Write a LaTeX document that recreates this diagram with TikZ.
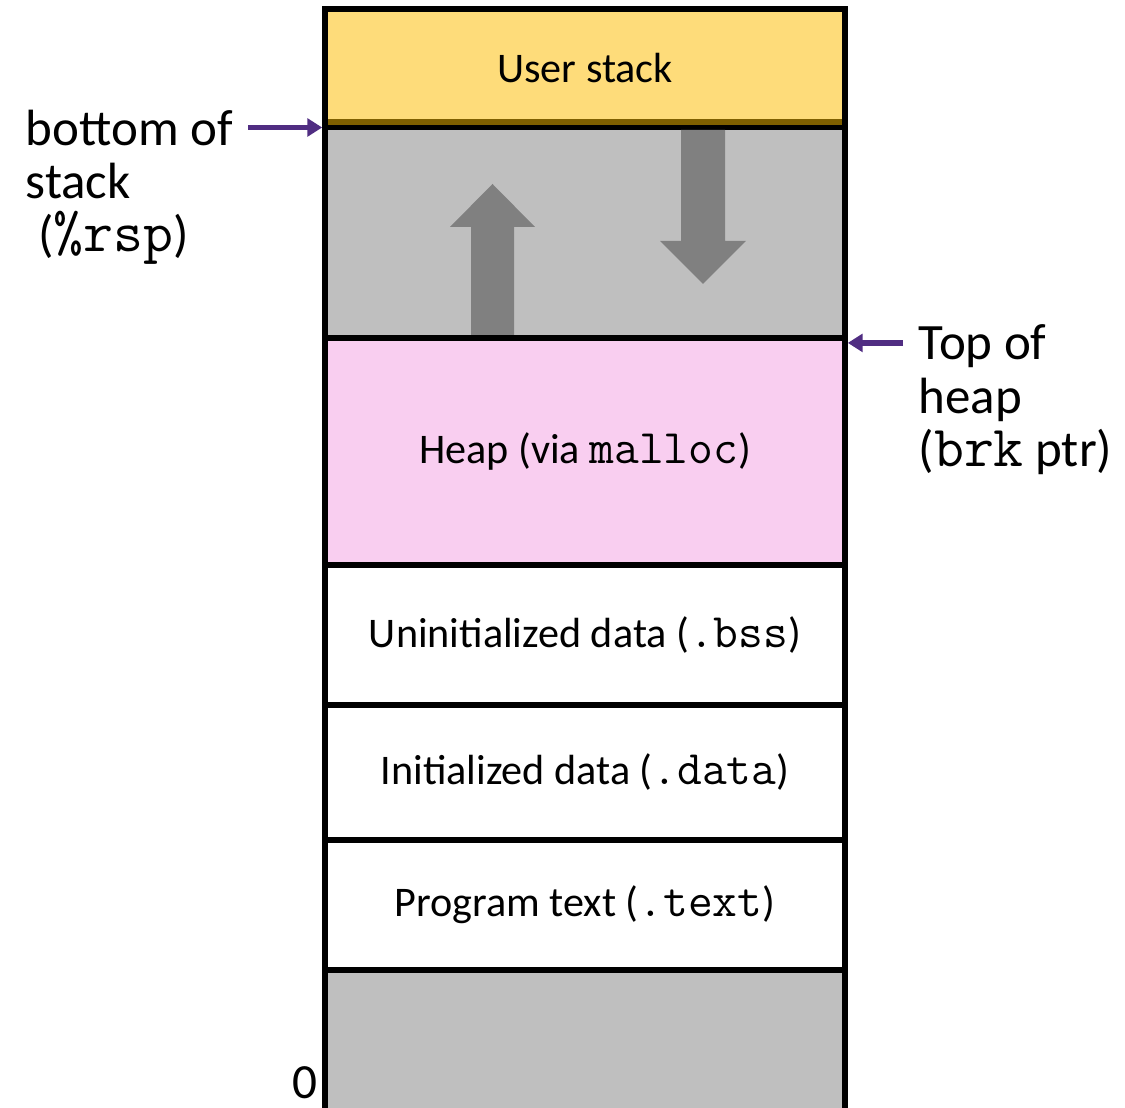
\documentclass[tikz,border=0pt]{standalone}
\usepackage{fontspec}
\setmainfont{Carlito}
\setmonofont{Latin Modern Mono}[Scale=1.14]
\usetikzlibrary{
  arrows.meta,
  positioning
}
\definecolor{stack yellow}{HTML}{FEDC7A}
\definecolor{stack brown}{HTML}{7F6000}
\definecolor{segment gray}{HTML}{BFBFBF}
\definecolor{arrow gray}{HTML}{808080}
\definecolor{heap pink}{HTML}{F9CEF0}
\definecolor{pointer purple}{HTML}{502D82}
\tikzset{
  % Shared values that are assigned to different keys in the styles below.
  globals/segment width/.initial=5.2cm,
  globals/border width/.initial=1.6pt,
%
  % For memory segments.  They are stacked with `below=0pt', so neighbouring
  % borders fall on the same line.
  segment/.style={
    draw,
    line width=\pgfkeysvalueof{/tikz/globals/border width},
    minimum width=\pgfkeysvalueof{/tikz/globals/segment width},
    inner sep=0pt,
    outer sep=0pt,
    font=\fontsize{12}{14}\selectfont},
%
  % For the texts left and right of the column.
  pointer label/.style={
    align=left,
    anchor=north west,
    inner sep=0pt,
    font=\fontsize{14.5}{15.2}\selectfont},
%
  % For thin arrows onto a segment border.
  pointer/.style={
    draw=pointer purple,
    line width=1.5pt,
    -{Triangle[length=4.2pt,width=5pt]}},
%
  % For the wide arrows in the free region.
  growth/.style={
    fill=arrow gray},
%
  % For the dark edge under the stack.
  stack edge/.style={
    draw=stack brown,
    line width=1.6pt}
}

\begin{document}
\begin{tikzpicture}
  \useasboundingbox (0,0) rectangle (11.25,11.08);

  % Segments, from the top of memory down.
  \node[segment, fill=stack yellow, minimum height=1.185cm, anchor=north]
    (user) at (5.85,10.99) {User stack};
  \node[segment, fill=segment gray, minimum height=2.105cm, below=0pt of user]
    (free) {};
  \node[segment, fill=heap pink, minimum height=2.27cm, below=0pt of free]
    (heap) {Heap (via \texttt{malloc})};
  \node[segment, minimum height=1.40cm, below=0pt of heap]
    (bss) {Uninitialized data (\texttt{.bss})};
  \node[segment, minimum height=1.35cm, below=0pt of bss]
    (data) {Initialized data (\texttt{.data})};
  \node[segment, minimum height=1.30cm, below=0pt of data]
    (text) {Program text (\texttt{.text})};
  % Runs past the page edge, so its bottom line is cut off.
  \node[segment, fill=segment gray, minimum height=1.6cm, below=0pt of text]
    (low) {};

  \draw[stack edge]
    ([shift={(0.8pt,1.6pt)}]user.south west) --
    ([shift={(-0.8pt,1.6pt)}]user.south east);

  % Heap grows up, stack grows down.
  \fill[growth] (4.71,7.73) -- (4.71,8.81) -- (4.50,8.81) -- (4.925,9.24)
    -- (5.35,8.81) -- (5.14,8.81) -- (5.14,7.73) -- cycle;
  \fill[growth] (6.81,9.78) -- (6.81,8.67) -- (6.60,8.67) -- (7.03,8.24)
    -- (7.46,8.67) -- (7.25,8.67) -- (7.25,9.78) -- cycle;

  \node[pointer label] (rsp label) at (0.25,9.99)
    {bottom of\\stack\\\hspace{0.25em}(\texttt{\%rsp})};
  \node[pointer label] (brk label) at (9.18,7.84)
    {Top of\\heap\\(\texttt{brk} ptr)};
  \node[font=\fontsize{14}{14}\selectfont, inner sep=0pt] (zero) at (3.05,0.25) {0};

  \coordinate (rsp) at ([xshift=-0.8pt]user.south west);
  \coordinate (brk) at ([shift={(0.8pt,-1.4pt)}]heap.north east);
  \draw[pointer] ([xshift=1.5mm]rsp label.east |- rsp) -- (rsp);
  \draw[pointer] ([xshift=-1.5mm]brk label.west |- brk) -- (brk);
\end{tikzpicture}
\end{document}
